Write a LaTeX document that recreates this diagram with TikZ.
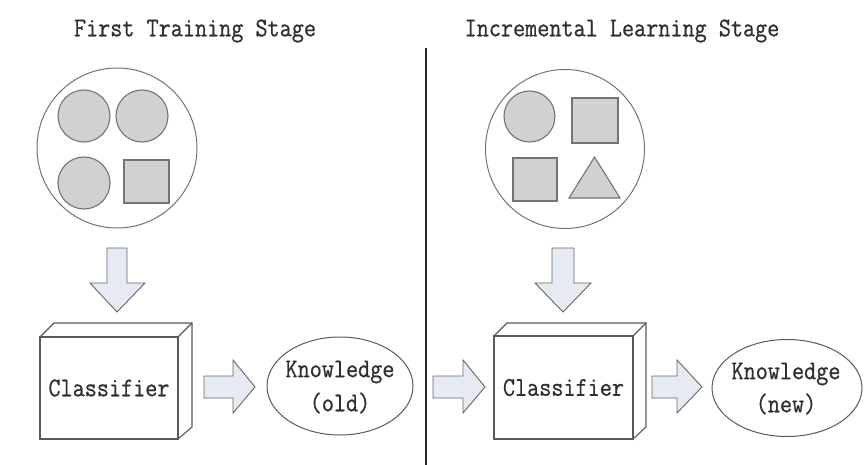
\documentclass[tikz,border=0pt]{standalone}
\usepackage{fontspec}
\usepackage{graphicx}
\usetikzlibrary{shapes.geometric}
\newfontface\heavytt{Latin Modern Mono}[FakeBold=0.7]
\definecolor{arrfill}{RGB}{230,234,243}
\begin{document}
\begin{tikzpicture}[x=1pt,y=-1pt,
  lbl/.style={font=\heavytt\fontsize{23.5}{26}\selectfont, text=black!82, inner sep=0pt},
  shp/.style={draw=black!55, fill=black!18, line width=1.1pt},
  bag/.style={draw=black!55, line width=1pt},
  blk/.style={draw=black!60, fill=arrfill, line width=0.9pt, line join=miter},
  box/.style={draw=black!65, fill=white, line width=1.1pt},
  know/.style={draw=black!65, line width=1pt, ellipse, minimum width=146pt, minimum height=98pt, inner sep=0pt}
]
\useasboundingbox (0,0) rectangle (867,465);
% titles
\node[lbl] (t1) at (195,31) {\scalebox{1}[1.15]{First Training Stage}};
\node[lbl] (t2) at (622,31) {\scalebox{1}[1.15]{Incremental Learning Stage}};
% divider
\coordinate (dtop) at (426,48);
\coordinate (dbot) at (426,465);
\draw[line width=2.8pt, black!85] (dtop) -- (dbot);

% left sample set
\node[bag, circle, minimum size=160pt] (setA) at (117,148) {};
\node[shp, circle, minimum size=52pt, inner sep=0pt] (a1) at (84,116) {};
\node[shp, circle, minimum size=52pt, inner sep=0pt] (a2) at (142,116) {};
\node[shp, circle, minimum size=52pt, inner sep=0pt] (a3) at (84,183) {};
\node[shp, rectangle, minimum width=45pt, minimum height=43pt, inner sep=0pt] (a4) at (146.5,181.5) {};

% right sample set
\node[bag, circle, minimum size=159pt] (setB) at (565,149) {};
\node[shp, circle, minimum size=51pt, inner sep=0pt] (b1) at (529.5,116.5) {};
\node[shp, rectangle, minimum width=46pt, minimum height=45pt, inner sep=0pt] (b2) at (595,120.5) {};
\node[shp, rectangle, minimum width=44pt, minimum height=43pt, inner sep=0pt] (b3) at (535,179.5) {};
\coordinate (b4) at (594.5,178);
\draw[shp] ([shift={(-25.5,20)}]b4) -- ([shift={(0,-21)}]b4) -- ([shift={(25.5,20)}]b4) -- cycle;

% down arrows
\draw[blk] (107,248) -- (127,248) -- (127,283) -- (145,283) -- (117,312) -- (90,283) -- (107,283) -- cycle;
\draw[blk] (552,248) -- (574,248) -- (574,283) -- (591,283) -- (563,312) -- (535,283) -- (552,283) -- cycle;

% classifier boxes (3D)
\draw[box] (40,337) -- (54,323) -- (192,323) -- (192,427) -- (178,439) -- (178,337) -- cycle;
\draw[box] (178,337) -- (192,323);
\node[box, rectangle, minimum width=138pt, minimum height=102pt, inner sep=0pt] (clsA) at (109,388) {};
\node[lbl] (clsAt) at (clsA) {\scalebox{1}[1.15]{Classifier}};

\draw[box] (494,336) -- (507,323) -- (646,323) -- (646,427) -- (633,439) -- (633,336) -- cycle;
\draw[box] (633,336) -- (646,323);
\node[box, rectangle, minimum width=139pt, minimum height=103pt, inner sep=0pt] (clsB) at (563.5,387.5) {};
\node[lbl] (clsBt) at (clsB) {\scalebox{1}[1.15]{Classifier}};

% knowledge ellipses
\node[know] (kA) at (340,386) {};
\node[lbl, align=center] at (340,372) {\scalebox{1}[1.15]{Knowledge}};
\node[lbl, align=center] at (340,403) {\scalebox{1}[1.15]{(old)}};
\node[know, minimum width=150pt, minimum height=97pt] (kB) at (787,388) {};
\node[lbl] at (786,374) {\scalebox{1}[1.15]{Knowledge}};
\node[lbl] at (786,404) {\scalebox{1}[1.15]{(new)}};

% horizontal block arrows
\draw[blk] (204,376) -- (233,376) -- (233,360) -- (255,387) -- (233,413) -- (233,398) -- (204,398) -- cycle;
\draw[blk] (433,376) -- (463,376) -- (463,360) -- (485,387) -- (463,413) -- (463,398) -- (433,398) -- cycle;
\draw[blk] (652,376) -- (677,376) -- (677,360) -- (702,387) -- (677,413) -- (677,398) -- (652,398) -- cycle;
\end{tikzpicture}
\end{document}
